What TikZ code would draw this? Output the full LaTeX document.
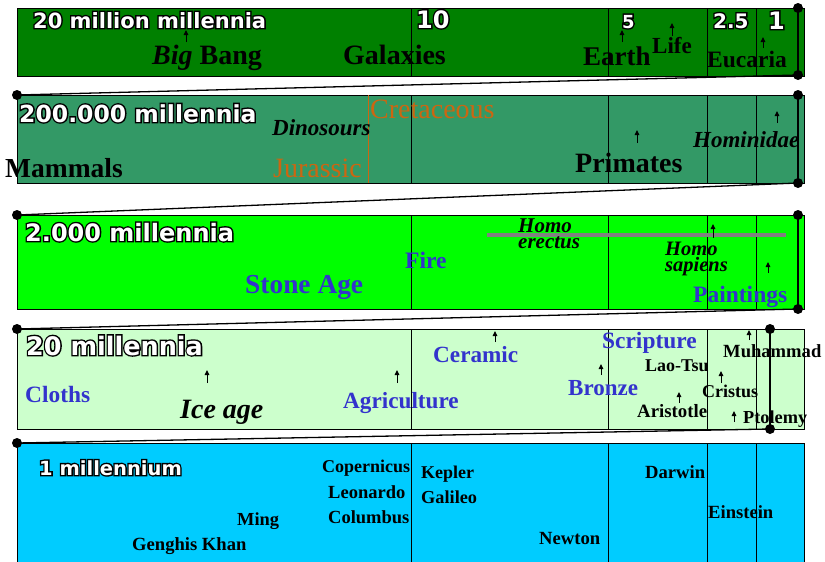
\documentclass[tikz,border=0pt]{standalone}
\usepackage{fontspec}
\setmainfont{Liberation Serif}
\newfontfamily\tfam{DejaVu Sans}
\usetikzlibrary{arrows.meta}
\definecolor{bandA}{HTML}{008000}
\definecolor{bandB}{HTML}{339966}
\definecolor{bandC}{HTML}{00FF00}
\definecolor{bandD}{HTML}{CCFFCC}
\definecolor{bandE}{HTML}{00CCFF}
\definecolor{txtblue}{HTML}{3333CC}
\definecolor{txtorange}{HTML}{CC6611}
\definecolor{erline}{HTML}{808080}
\newcommand\fs[1]{\fontsize{#1}{#1}\selectfont}
\newcommand\olt[1]{\rlap{\special{pdf:code 1 Tr 0 0 0 RG 2.8 w}#1\special{pdf:code 0 Tr}}#1}
\tikzset{
  band/.style={draw=black,line width=1pt},
  divline/.style={draw=black,line width=0.9pt},
  dotnode/.style={circle,fill=black,inner sep=0pt,minimum size=10pt},
  zoomline/.style={line width=1.3pt},
  uparr/.style={-{Triangle[length=5pt,width=4.5pt]},line width=1pt},
  ttl/.style={inner sep=0pt,anchor=base west,text=white},
  lbl/.style={inner sep=0pt,anchor=base west},
  blu/.style={lbl,text=txtblue},
  org/.style={lbl,text=txtorange},
}
\begin{document}
\begin{tikzpicture}[x=1pt,y=-1pt]
\useasboundingbox (0,0) rectangle (825,562);
\clip (0,0) rectangle (825,562);
\fill[white] (0,0) rectangle (825,562);

% ---------- bands ----------
\draw[band,fill=bandA] (17,8) rectangle (804,76);
\draw[band,fill=bandB] (17,95) rectangle (804,183);
\draw[band,fill=bandC] (17,215) rectangle (804,309);
\draw[band,fill=bandD] (17,329) rectangle (804,429);
\draw[band,fill=bandE] (17,443) rectangle (804,575);

% dividers
\foreach \yt/\yb in {8/76,95/183,215/309,329/429,443/575}{
  \foreach \xx in {411,608,707,756}{
    \draw[divline] (\xx,\yt) -- (\xx,\yb);
  }
}
\draw[txtorange,line width=1pt] (368,95) -- (368,183);

% dots
\node[dotnode] (r1t) at (798,8) {};
\node[dotnode] (r1b) at (798,75) {};
\node[dotnode] (l2) at (17,95) {};
\node[dotnode] (r2t) at (798,95) {};
\node[dotnode] (r2b) at (798,183) {};
\node[dotnode] (l3) at (17,215) {};
\node[dotnode] (r3t) at (798,215) {};
\node[dotnode] (r3b) at (798,309) {};
\node[dotnode] (l4) at (17,329) {};
\node[dotnode] (r4t) at (770,329) {};
\node[dotnode] (r4b) at (770,429) {};
\node[dotnode] (l5) at (17,443) {};

% right bars and zoom lines
\draw[line width=1.6pt] (r1t.center) -- (r1b.center);
\draw[line width=1.6pt] (r2t.center) -- (r2b.center);
\draw[line width=1.6pt] (r3t.center) -- (r3b.center);
\draw[line width=1.6pt] (r4t.center) -- (r4b.center);
\draw[zoomline] (l2.center) -- (r1b.center);
\draw[zoomline] (l3.center) -- (r2b.center);
\draw[zoomline] (l4.center) -- (r3b.center);
\draw[zoomline] (l5.center) -- (r4b.center);

% Homo erectus span
\draw[erline,line width=4pt] (487,235) -- (786,235);

% ---------- band 1 ----------
\node[ttl,font={\tfam\bfseries\fs{21}}] (t1) at (33,28) {\olt{20 million millennia}};
\node[ttl,font={\tfam\bfseries\fs{24}}] (n10) at (416,28) {\olt{10}};
\node[ttl,font={\tfam\bfseries\fs{18}}] (n5) at (622,28) {\olt{5}};
\node[ttl,font={\tfam\bfseries\fs{20}}] (n25) at (713,28) {\olt{2.5}};
\node[ttl,font={\tfam\bfseries\fs{24}}] (n1) at (768,29) {\olt{1}};
\node[lbl,font={\bfseries\fs{28}}] (bigbang) at (152,64) {\textit{Big} Bang};
\node[lbl,font={\bfseries\fs{28}}] (galax) at (343,64) {Galaxies};
\node[lbl,font={\bfseries\fs{27}}] (earth) at (583,65) {Earth};
\node[lbl,font={\bfseries\fs{23}}] (life) at (652,53) {Life};
\node[lbl,font={\bfseries\fs{23.5}}] (euc) at (707,67) {Eucaria};
\draw[uparr] (186,42) -- (186,30);
\draw[uparr] (622,42) -- (622,30);
\draw[uparr] (672,36) -- (672,23);
\draw[uparr] (763,48) -- (763,37);

% ---------- band 2 ----------
\node[ttl,font={\tfam\bfseries\fs{23.5}}] (t2) at (19,122) {\olt{200.000 millennia}};
\node[lbl,font={\bfseries\fs{27.5}}] (mamm) at (5,177) {Mammals};
\node[lbl,font={\bfseries\itshape\fs{23}}] (dino) at (272,135) {Dinosours};
\node[org,font={\fs{28}}] (creta) at (370,118) {Cretaceous};
\node[org,font={\fs{28}}] (jura) at (273,177) {Jurassic};
\node[lbl,font={\bfseries\fs{28}}] (prim) at (575,172) {Primates};
\node[lbl,font={\bfseries\itshape\fs{23}}] (homi) at (693,147) {Hominidae};
\draw[uparr] (637,143) -- (637,130);
\draw[uparr] (777,123) -- (777,111);

% ---------- band 3 ----------
\node[ttl,font={\tfam\bfseries\fs{24}}] (t3) at (25,241) {\olt{2.000 millennia}};
\node[blu,font={\bfseries\fs{27.4}}] (stone) at (245,293) {Stone Age};
\node[blu,font={\bfseries\fs{23.6}}] (fire) at (405,268) {Fire};
\node[lbl,align=left,font={\bfseries\itshape\fontsize{21}{16}\selectfont}] (herec) at (518,248) {Homo\\erectus};
\node[lbl,align=left,font={\bfseries\itshape\fontsize{20.5}{13}\selectfont}] (hsap) at (665,271) {Homo\\sapiens};
\node[blu,font={\bfseries\fs{23.5}}] (paint) at (693,302) {Paintings};
\draw[uparr] (713,238) -- (713,224);
\draw[uparr] (768,273) -- (768,262);

% ---------- band 4 ----------
\node[ttl,font={\tfam\bfseries\fs{25.5}}] (t4) at (26,355) {\olt{20 millennia}};
\node[blu,font={\bfseries\fs{23.4}}] (cloth) at (25,402) {Cloths};
\node[lbl,font={\bfseries\itshape\fs{28}}] (ice) at (180,418) {Ice age};
\node[blu,font={\bfseries\fs{23.2}}] (agri) at (343,408) {Agriculture};
\node[blu,font={\bfseries\fs{23.2}}] (cera) at (433,362) {Ceramic};
\node[blu,font={\bfseries\fs{23}}] (bron) at (568,395) {Bronze};
\node[blu,font={\bfseries\fs{23.4}}] (scri) at (602,348) {Scripture};
\node[lbl,font={\bfseries\fs{18}}] (lao) at (645,371) {Lao-Tsu};
\node[lbl,font={\bfseries\fs{18.8}}] (aris) at (637,417) {Aristotle};
\node[lbl,font={\bfseries\fs{18.6}}] (muha) at (723,357) {Muhammad};
\node[lbl,font={\bfseries\fs{18}}] (cris) at (702,397) {Cristus};
\node[lbl,font={\bfseries\fs{18.3}}] (ptol) at (743,423) {Ptolemy};
\draw[uparr] (207,383) -- (207,370);
\draw[uparr] (397,383) -- (397,370);
\draw[uparr] (495,342) -- (495,331);
\draw[uparr] (601,375) -- (601,364);
\draw[uparr] (679,403) -- (679,392);
\draw[uparr] (749,340) -- (749,330);
\draw[uparr] (721,383) -- (721,371);
\draw[uparr] (734,422) -- (734,411);

% ---------- band 5 ----------
\node[ttl,font={\tfam\bfseries\fs{19.5}}] (t5) at (39,475) {\olt{1 millennium}};
\node[lbl,font={\bfseries\fs{18}}] (cope) at (322,472) {Copernicus};
\node[lbl,font={\bfseries\fs{18.5}}] (leon) at (328,498) {Leonardo};
\node[lbl,font={\bfseries\fs{18.5}}] (colu) at (328,523) {Columbus};
\node[lbl,font={\bfseries\fs{18.4}}] (ming) at (237,525) {Ming};
\node[lbl,font={\bfseries\fs{18.6}}] (geng) at (132,550) {Genghis Khan};
\node[lbl,font={\bfseries\fs{18}}] (kepl) at (421,478) {Kepler};
\node[lbl,font={\bfseries\fs{18.3}}] (gali) at (421,503) {Galileo};
\node[lbl,font={\bfseries\fs{18.6}}] (newt) at (539,544) {Newton};
\node[lbl,font={\bfseries\fs{18.6}}] (darw) at (645,478) {Darwin};
\node[lbl,font={\bfseries\fs{18.6}}] (eins) at (708,518) {Einstein};
\end{tikzpicture}
\end{document}
